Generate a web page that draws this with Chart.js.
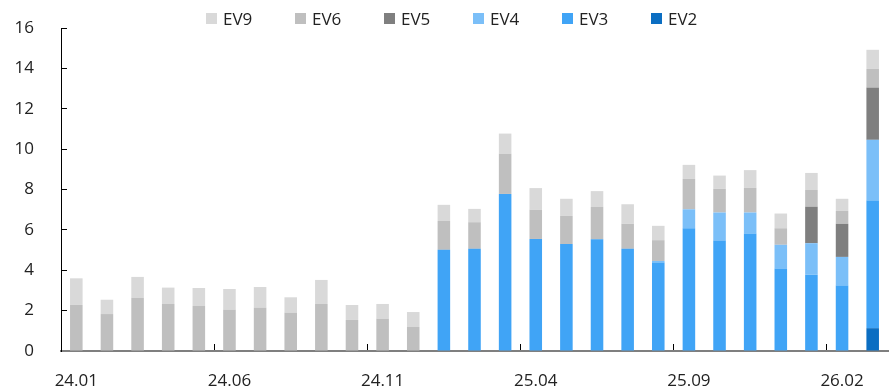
<!DOCTYPE html>
<html>
<head>
<meta charset="utf-8">
<script src="https://cdn.jsdelivr.net/npm/chart.js@4.4.1/dist/chart.umd.min.js"></script>
<style>
    html, body { margin: 0; padding: 0; background: #fff; }
    #wrap { position: relative; width: 893px; height: 391px; }
    #legend { position: absolute; top: 7px; left: 206px; display: flex; font-family: "Open Sans", sans-serif; font-size: 17px; color: #222; }
    .leg-item { width: 89px; display: flex; align-items: center; white-space: nowrap; }
    .leg-box { width: 11px; height: 11px; margin-right: 6px; }
</style>
</head>
<body>
<div id="wrap">
    <canvas id="chart" width="893" height="391"></canvas>
    <div id="legend"></div>
</div>
<script>
// Months
const months = [
    "24.01","24.02","24.03","24.04","24.05","24.06","24.07","24.08","24.09","24.10","24.11","24.12",
    "25.01","25.02","25.03","25.04","25.05","25.06","25.07","25.08","25.09","25.10","25.11","25.12",
    "26.01","26.02","26.03"
];

// Series (stacked, bottom to top)
const ev2 = [0,0,0,0,0,0,0,0,0,0,0,0, 0,0,0,0,0,0,0,0,0,0,0,0, 0,0,1.13];
const ev3 = [0,0,0,0,0,0,0,0,0,0,0,0, 5.01,5.06,7.78,5.55,5.30,5.53,5.06,4.38,6.08,5.47,5.82,4.07, 3.78,3.24,6.32];
const ev4 = [0,0,0,0,0,0,0,0,0,0,0,0, 0,0,0,0,0,0,0,0.08,0.94,1.39,1.04,1.19, 1.56,1.42,3.01];
const ev5 = [0,0,0,0,0,0,0,0,0,0,0,0, 0,0,0,0,0,0,0,0,0,0,0,0, 1.81,1.64,2.59];
const ev6 = [2.28,1.83,2.64,2.33,2.23,2.05,2.15,1.90,2.33,1.54,1.60,1.20, 1.43,1.32,1.99,1.45,1.39,1.61,1.24,1.03,1.51,1.17,1.22,0.82, 0.83,0.64,0.93];
const ev9 = [1.32,0.71,1.03,0.81,0.89,1.02,1.02,0.76,1.19,0.74,0.73,0.73, 0.80,0.66,1.00,1.07,0.85,0.78,0.97,0.71,0.69,0.66,0.88,0.73, 0.84,0.60,0.94];

const yTicks = [0, 2, 4, 6, 8, 10, 12, 14, 16];

const FONT = { family: "'Open Sans', sans-serif", size: 17 };

function ds(label, data, color) {
    return { label: label, data: data, backgroundColor: color, borderWidth: 0, barPercentage: 0.41, categoryPercentage: 1 };
}

const datasets = [
    ds("EV2", ev2, "#0b6ec2"),
    ds("EV3", ev3, "#40a4f6"),
    ds("EV4", ev4, "#7bbff8"),
    ds("EV5", ev5, "#7f7f7f"),
    ds("EV6", ev6, "#bfbfbf"),
    ds("EV9", ev9, "#d9d9d9")
];

const chart = new Chart(document.getElementById("chart"), {
    type: "bar",
    data: { labels: months, datasets: datasets },
    options: {
        responsive: false,
        animation: false,
        layout: { padding: { top: 28, right: 5, left: 14, bottom: 0 } },
        plugins: { legend: { display: false }, tooltip: { enabled: false } },
        scales: {
            x: {
                stacked: true,
                offset: true,
                border: { color: "#7f7f7f", width: 2 },
                grid: {
                    offset: true,
                    drawOnChartArea: false,
                    tickLength: -7,
                    color: (c) => (c.index % 5 === 0 && c.index > 0) ? "#000" : "rgba(0,0,0,0)"
                },
                ticks: {
                    autoSkip: false,
                    maxRotation: 0,
                    padding: 27,
                    color: "#222",
                    font: FONT,
                    callback: (v, i) => i % 5 === 0 ? months[i] : ""
                },
                afterFit: (s) => { s.height = 40; s.paddingLeft = 0; s.paddingRight = 0; }
            },
            y: {
                stacked: true,
                min: 0,
                max: 16,
                border: { color: "#000", width: 1 },
                grid: { drawOnChartArea: false, tickLength: -6, color: "#000" },
                afterBuildTicks: (s) => { s.ticks = yTicks.map(v => ({ value: v })); },
                ticks: { padding: 33, color: "#222", font: FONT },
                afterFit: (s) => { s.width = 47; s.paddingTop = 0; s.paddingBottom = 0; }
            }
        }
    }
});

// Legend (HTML, reversed order like the original)
const legend = document.getElementById("legend");
chart.data.datasets.slice().reverse().forEach(d => {
    const item = document.createElement("div");
    item.className = "leg-item";
    item.innerHTML = `<span class="leg-box" style="background:${d.backgroundColor}"></span><span>${d.label}</span>`;
    legend.appendChild(item);
});
</script>
</body>
</html>
